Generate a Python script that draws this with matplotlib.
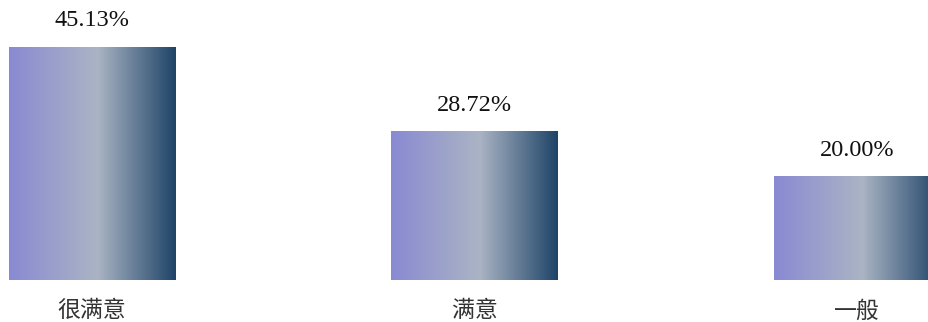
import numpy as np
import matplotlib.pyplot as plt
from matplotlib.colors import LinearSegmentedColormap

categories = ["很满意", "满意", "一般"]
values = [45.13, 28.72, 20.00]
labels = ["45.13%", "28.72%", "20.00%"]

grad = LinearSegmentedColormap.from_list(
    "bar_grad", [(0.0, "#898ad2"), (0.53, "#aab4c4"), (1.0, "#1f4468")])


def draw_chart():
    fig = plt.figure(figsize=(9.29, 3.22), dpi=100)
    ax = fig.add_axes([0, 42 / 322, 1, 280 / 322])
    x = np.arange(len(categories))
    width = 0.434
    bars = ax.bar(x, values, width=width, color="none")

    ramp = np.linspace(0, 1, 256).reshape(1, -1)
    for rect, lab in zip(bars, labels):
        x0, h = rect.get_x(), rect.get_height()
        ax.imshow(ramp, cmap=grad, aspect="auto", interpolation="bilinear",
                  extent=(x0, x0 + rect.get_width(), 0, h), zorder=2)
        ax.annotate(lab, (x0 + rect.get_width() / 2, h), xytext=(0, 15),
                    textcoords="offset points", ha="center", va="baseline",
                    fontsize=17.5, family="Liberation Serif", color="#111111")

    ax.set_xlim(-92 / 382.5, (929 - 92) / 382.5)
    ax.set_ylim(0, 280 / 5.16)
    ax.set_xticks(x)
    ax.set_xticklabels(categories, fontsize=16.5, family="Noto Sans CJK SC",
                       color="#333333")
    ax.tick_params(axis="x", length=0, pad=14)
    ax.set_yticks([])
    for s in ax.spines.values():
        s.set_visible(False)
    fig.savefig("out.png", dpi=100)
    plt.close(fig)


if __name__ == "__main__":
    draw_chart()
